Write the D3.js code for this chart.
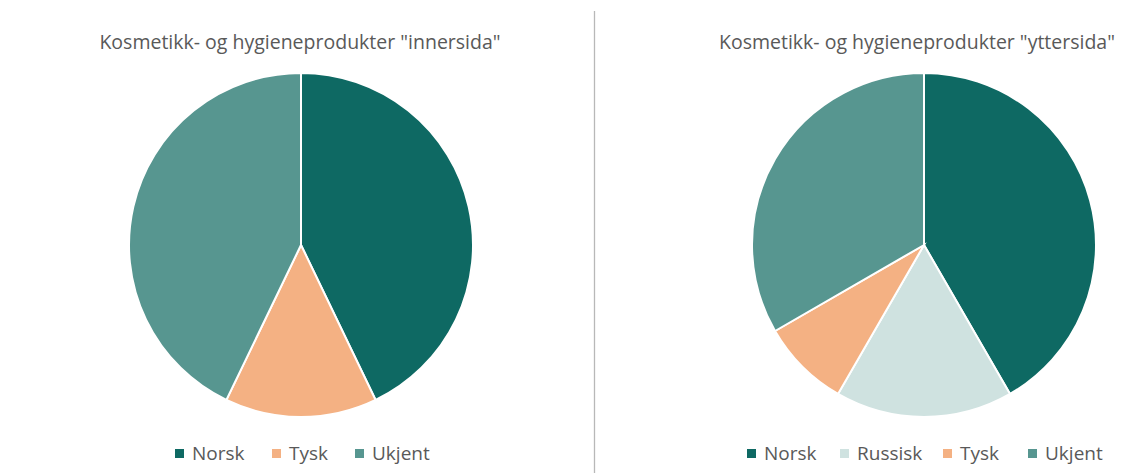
<!DOCTYPE html>
<html>
<head>
<meta charset="utf-8">
<script src="https://cdn.jsdelivr.net/npm/d3@7"></script>
<style>
  body { margin: 0; background: #fff; }
  text { font-family: "Open Sans", "Noto Sans", sans-serif; fill: #595959; }
</style>
</head>
<body>
<div id="chart"></div>
<script>
// data
const innerCategories = ['Norsk', 'Tysk', 'Ukjent'];
const innerValues = [3, 1, 3];
const outerCategories = ['Norsk', 'Russisk', 'Tysk', 'Ukjent'];
const outerValues = [5, 2, 1, 4];
const titles = ['Kosmetikk- og hygieneprodukter "innersida"', 'Kosmetikk- og hygieneprodukter "yttersida"'];

const color = d3.scaleOrdinal()
  .domain(['Norsk', 'Russisk', 'Tysk', 'Ukjent'])
  .range(['#0e6963', '#cfe2e0', '#f4b183', '#579690']);

const width = 1127, height = 473;
const svg = d3.select('#chart').append('svg')
  .attr('width', width).attr('height', height);

// divider between the two charts
svg.append('line')
  .attr('x1', 594.5).attr('x2', 594.5)
  .attr('y1', 11).attr('y2', height)
  .attr('stroke', '#b8b8b8').attr('stroke-width', 1.3);

function drawPie(cx, titleX, title, cats, vals, legendX) {
  const g = svg.append('g');
  const data = cats.map((c, i) => ({ name: c, value: vals[i] }));
  const pie = d3.pie().sort(null).value(d => d.value);
  const arc = d3.arc().innerRadius(0).outerRadius(172);

  g.append('text')
    .attr('x', titleX).attr('y', 49)
    .attr('text-anchor', 'middle')
    .style('font-size', '19.5px')
    .text(title);

  g.append('g')
    .attr('transform', `translate(${cx},245)`)
    .selectAll('path')
    .data(pie(data))
    .enter()
    .append('path')
    .attr('d', arc)
    .attr('fill', d => color(d.data.name))
    .attr('stroke', '#fff')
    .attr('stroke-width', 2);

  // legend
  const legend = g.append('g');
  legendX.forEach((x, i) => {
    legend.append('rect')
      .attr('x', x).attr('y', 449)
      .attr('width', 9).attr('height', 9)
      .attr('fill', color(cats[i]));
    legend.append('text')
      .attr('x', x + 17).attr('y', 460)
      .style('font-size', '19px')
      .text(cats[i]);
  });
}

drawPie(301, 300, titles[0], innerCategories, innerValues, [175, 272, 355]);
drawPie(924, 917, titles[1], outerCategories, outerValues, [747, 840, 943, 1028]);
</script>
</body>
</html>
